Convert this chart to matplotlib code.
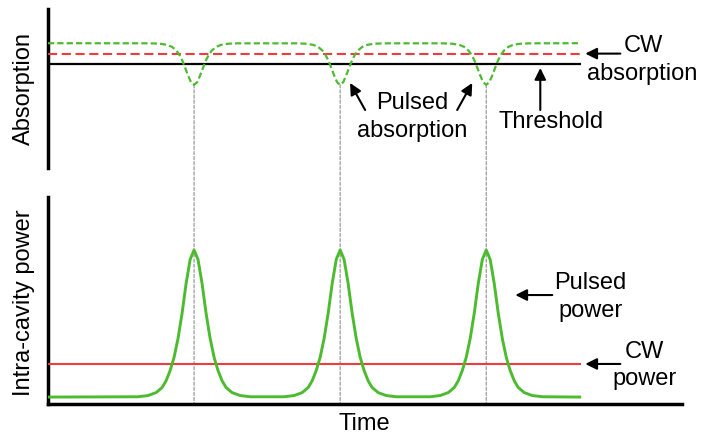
import matplotlib
matplotlib.use("Agg")
import matplotlib.pyplot as plt
from matplotlib.patches import ConnectionPatch

plt.rcParams['font.family'] = ['Liberation Sans', 'DejaVu Sans']

# ---------------- data (arbitrary units, time in pulse periods) ----------------
pulse_centers = [1.0, 2.0, 3.0]
t_end = 3.65

threshold_level = 1.0
cw_absorption_level = 1.2
cw_power_level = 0.26

# pulsed absorption (saturable absorber)
abs_time = [0.0, 0.699, 0.767, 0.815, 0.849, 0.877, 0.897, 0.918, 0.938, 0.959, 0.979,
            1.0, 1.021, 1.041, 1.062, 1.082, 1.103, 1.123, 1.151, 1.185, 1.233, 1.301,
            1.699, 1.767, 1.815, 1.849, 1.877, 1.897, 1.918, 1.938, 1.959, 1.979,
            2.0, 2.021, 2.041, 2.062, 2.082, 2.103, 2.123, 2.151, 2.185, 2.233, 2.301,
            2.699, 2.767, 2.815, 2.849, 2.877, 2.897, 2.918, 2.938, 2.959, 2.979,
            3.0, 3.021, 3.041, 3.062, 3.082, 3.103, 3.123, 3.151, 3.185, 3.233, 3.301,
            3.65]
abs_value = [1.40, 1.398, 1.39, 1.369, 1.329, 1.263, 1.188, 1.077, 0.934, 0.779, 0.65,
             0.60, 0.65, 0.779, 0.934, 1.077, 1.188, 1.263, 1.329, 1.369, 1.39, 1.398,
             1.398, 1.39, 1.369, 1.329, 1.263, 1.188, 1.077, 0.934, 0.779, 0.65,
             0.60, 0.65, 0.779, 0.934, 1.077, 1.188, 1.263, 1.329, 1.369, 1.39, 1.398,
             1.398, 1.39, 1.369, 1.329, 1.263, 1.188, 1.077, 0.934, 0.779, 0.65,
             0.60, 0.65, 0.779, 0.934, 1.077, 1.188, 1.263, 1.329, 1.369, 1.39, 1.398,
             1.40]

# intra-cavity pulsed power
pow_time = [0.0, 0.616, 0.685, 0.740, 0.781, 0.808, 0.836, 0.863, 0.890, 0.918, 0.945, 0.973,
            1.0, 1.027, 1.055, 1.082, 1.110, 1.137, 1.164, 1.192, 1.219, 1.260, 1.315, 1.384,
            1.616, 1.685, 1.740, 1.781, 1.808, 1.836, 1.863, 1.890, 1.918, 1.945, 1.973,
            2.0, 2.027, 2.055, 2.082, 2.110, 2.137, 2.164, 2.192, 2.219, 2.260, 2.315, 2.384,
            2.616, 2.685, 2.740, 2.781, 2.808, 2.836, 2.863, 2.890, 2.918, 2.945, 2.973,
            3.0, 3.027, 3.055, 3.082, 3.110, 3.137, 3.164, 3.192, 3.219, 3.260, 3.315, 3.384,
            3.65]
pow_value = [0.045, 0.047, 0.055, 0.074, 0.107, 0.15, 0.217, 0.303, 0.425, 0.59, 0.78, 0.938,
             1.0, 0.938, 0.78, 0.59, 0.425, 0.303, 0.217, 0.15, 0.107, 0.074, 0.055, 0.047,
             0.047, 0.055, 0.074, 0.107, 0.15, 0.217, 0.303, 0.425, 0.59, 0.78, 0.938,
             1.0, 0.938, 0.78, 0.59, 0.425, 0.303, 0.217, 0.15, 0.107, 0.074, 0.055, 0.047,
             0.047, 0.055, 0.074, 0.107, 0.15, 0.217, 0.303, 0.425, 0.59, 0.78, 0.938,
             1.0, 0.938, 0.78, 0.59, 0.425, 0.303, 0.217, 0.15, 0.107, 0.074, 0.055, 0.047,
             0.045]

# ---------------- styles ----------------
GREEN = '#4cbb2f'
RED = '#ee3b3b'
FS = 17

fig = plt.figure(figsize=(7.02, 4.37), dpi=100)
W, H = 702.0, 437.0
ax_top = fig.add_axes([48 / W, 1 - 168 / H, 634 / W, 159 / H])
ax_bot = fig.add_axes([48 / W, 1 - 404 / H, 634 / W, 207 / H])

for ax in (ax_top, ax_bot):
    ax.set_xlim(0, 4.34)
    ax.set_xticks([])
    ax.set_yticks([])
    for s in ('top', 'right'):
        ax.spines[s].set_visible(False)
    ax.spines['left'].set_linewidth(2.5)
    ax.spines['bottom'].set_linewidth(2.5)
    ax.patch.set_visible(False)
ax_top.spines['bottom'].set_visible(False)

ax_top.set_ylim(-1.0, 2.058)
ax_bot.set_ylim(0.0, 1.344)

# top panel
ax_top.plot([0, t_end], [threshold_level, threshold_level], color='black', lw=1.6,
            solid_capstyle='butt', zorder=2)
ax_top.plot([0, t_end], [cw_absorption_level, cw_absorption_level], color=RED, lw=1.5,
            linestyle=(0, (4.4, 2.2)), zorder=3)
ax_top.plot(abs_time, abs_value, color=GREEN, lw=1.6, linestyle=(0, (2.8, 1.4)), zorder=4)

# bottom panel
ax_bot.plot([0, t_end], [cw_power_level, cw_power_level], color=RED, lw=1.5, zorder=3,
            solid_capstyle='butt')
ax_bot.plot(pow_time, pow_value, color=GREEN, lw=2.1, zorder=4, solid_capstyle='butt')

# dotted guide lines through both panels
for c in pulse_centers:
    cp = ConnectionPatch(xyA=(c, 0.6), coordsA=ax_top.transData,
                         xyB=(c, 0.0), coordsB=ax_bot.transData,
                         color='#9a9a9a', lw=0.9, linestyle=(0, (2.5, 1.6)), zorder=0)
    fig.add_artist(cp)

arrow = dict(arrowstyle='-|>', color='black', lw=1.5, mutation_scale=17,
             shrinkA=0, shrinkB=0)

# top annotations
ax_top.text(4.075, 1.231, 'CW', ha='center', va='baseline', fontsize=FS, clip_on=False)
ax_top.text(4.068, 0.692, 'absorption', ha='center', va='baseline', fontsize=FS, clip_on=False)
ax_top.annotate('', xy=(3.678, cw_absorption_level), xytext=(3.918, cw_absorption_level),
                arrowprops=arrow, annotation_clip=False)

ax_top.text(2.493, 0.135, 'Pulsed', ha='center', va='baseline', fontsize=FS)
ax_top.text(2.493, -0.404, 'absorption', ha='center', va='baseline', fontsize=FS)
ax_top.annotate('', xy=(2.068, 0.635), xytext=(2.171, 0.115), arrowprops=arrow)
ax_top.annotate('', xy=(2.904, 0.635), xytext=(2.801, 0.115), arrowprops=arrow)

ax_top.text(3.445, -0.231, 'Threshold', ha='center', va='baseline', fontsize=FS)
ax_top.annotate('', xy=(3.37, 0.923), xytext=(3.37, 0.115), arrowprops=arrow)

# bottom annotations
ax_bot.text(3.712, 0.747, 'Pulsed', ha='center', va='baseline', fontsize=FS)
ax_bot.text(3.712, 0.565, 'power', ha='center', va='baseline', fontsize=FS)
ax_bot.annotate('', xy=(3.199, 0.7075), xytext=(3.452, 0.7075), arrowprops=arrow)

ax_bot.text(4.082, 0.2985, 'CW', ha='center', va='baseline', fontsize=FS, clip_on=False)
ax_bot.text(4.082, 0.123, 'power', ha='center', va='baseline', fontsize=FS, clip_on=False)
ax_bot.annotate('', xy=(3.678, cw_power_level), xytext=(3.918, cw_power_level),
                arrowprops=arrow, annotation_clip=False)

ax_bot.text(2.164, -0.1695, 'Time', ha='center', va='baseline', fontsize=FS, clip_on=False)

fig.text(24 / W, 1 - 88.5 / H, 'Absorption', rotation=90, ha='center', va='center', fontsize=FS)
fig.text(24 / W, 1 - 302.5 / H, 'Intra-cavity power', rotation=90, ha='center', va='center',
         fontsize=FS)

fig.savefig('out.png', dpi=100)
